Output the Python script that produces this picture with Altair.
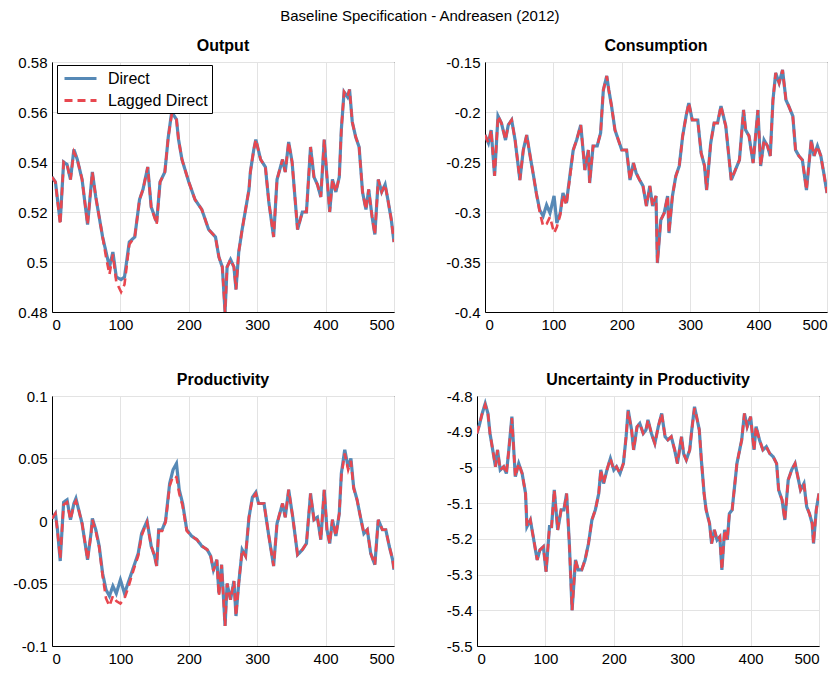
import altair as alt
import pandas as pd

# ---------------- data ----------------
out_t = [0, 5, 12, 17, 22, 27, 32, 37, 44, 52, 59, 64, 69, 74, 79, 84, 89, 94, 101, 106, 113, 121, 128, 133, 140, 145,
         153, 158, 165, 170, 175, 182, 185, 190, 200, 209, 219, 229, 239, 244, 249, 253, 256, 261, 266, 269, 273, 278,
         283, 288, 290, 295, 298, 305, 312, 317, 324, 329, 337, 341, 346, 351, 359, 366, 372, 378, 383, 388, 393, 398,
         402, 406, 410, 415, 420, 423, 427, 432, 435, 439, 444, 449, 454, 459, 463, 468, 472, 477, 482, 487, 491, 496, 500]
out_direct = [0.534, 0.532, 0.516, 0.540, 0.539, 0.533, 0.545, 0.541, 0.533, 0.515, 0.536, 0.526, 0.518, 0.510, 0.504,
              0.498, 0.504, 0.494, 0.493, 0.494, 0.508, 0.510, 0.525, 0.529, 0.538, 0.522, 0.516, 0.532, 0.536, 0.550,
              0.560, 0.557, 0.549, 0.541, 0.532, 0.525, 0.521, 0.513, 0.510, 0.502, 0.498, 0.480, 0.498, 0.501, 0.498,
              0.489, 0.504, 0.513, 0.521, 0.529, 0.536, 0.545, 0.549, 0.541, 0.538, 0.524, 0.510, 0.533, 0.541, 0.536,
              0.548, 0.540, 0.513, 0.520, 0.520, 0.546, 0.534, 0.531, 0.526, 0.549, 0.534, 0.520, 0.533, 0.528, 0.534,
              0.553, 0.568, 0.566, 0.569, 0.556, 0.550, 0.546, 0.528, 0.521, 0.529, 0.518, 0.511, 0.533, 0.528, 0.531,
              0.525, 0.517, 0.508]
out_lagged = [0.534, 0.532, 0.515, 0.540, 0.539, 0.533, 0.544, 0.541, 0.533, 0.515, 0.536, 0.526, 0.518, 0.510, 0.502,
              0.495, 0.503, 0.492, 0.488, 0.491, 0.507, 0.510, 0.525, 0.529, 0.538, 0.522, 0.515, 0.532, 0.536, 0.550,
              0.559, 0.557, 0.549, 0.541, 0.532, 0.525, 0.521, 0.513, 0.510, 0.502, 0.498, 0.480, 0.498, 0.501, 0.498,
              0.489, 0.504, 0.513, 0.521, 0.529, 0.536, 0.545, 0.549, 0.541, 0.538, 0.524, 0.510, 0.533, 0.541, 0.536,
              0.548, 0.540, 0.513, 0.520, 0.520, 0.546, 0.534, 0.531, 0.526, 0.549, 0.534, 0.520, 0.533, 0.528, 0.534,
              0.553, 0.568, 0.566, 0.569, 0.556, 0.550, 0.546, 0.528, 0.521, 0.529, 0.518, 0.511, 0.533, 0.528, 0.531,
              0.525, 0.517, 0.508]

con_t = [0, 5, 9, 14, 19, 24, 30, 34, 39, 44, 51, 56, 61, 66, 71, 75, 80, 85, 90, 95, 101, 105, 110, 114, 119, 124,
         129, 134, 140, 146, 151, 153, 158, 164, 169, 173, 178, 181, 185, 190, 195, 200, 207, 212, 217, 221, 226, 231,
         236, 241, 245, 250, 252, 257, 262, 267, 269, 274, 279, 284, 289, 294, 298, 303, 311, 316, 321, 324, 330, 335,
         340, 345, 352, 360, 366, 372, 378, 381, 386, 392, 399, 403, 408, 413, 417, 421, 425, 430, 435, 440, 444, 450,
         454, 459, 464, 470, 477, 481, 486, 491, 496, 500]
con_direct = [-0.223, -0.231, -0.218, -0.264, -0.204, -0.211, -0.228, -0.213, -0.208, -0.228, -0.268, -0.238, -0.223,
              -0.244, -0.264, -0.281, -0.298, -0.304, -0.293, -0.301, -0.284, -0.311, -0.301, -0.281, -0.291, -0.264,
              -0.238, -0.228, -0.213, -0.258, -0.238, -0.271, -0.234, -0.234, -0.221, -0.178, -0.164, -0.178, -0.194,
              -0.218, -0.228, -0.238, -0.238, -0.268, -0.251, -0.261, -0.268, -0.274, -0.294, -0.274, -0.294, -0.284,
              -0.351, -0.308, -0.301, -0.284, -0.321, -0.284, -0.264, -0.254, -0.224, -0.204, -0.191, -0.208, -0.208,
              -0.241, -0.254, -0.278, -0.231, -0.211, -0.211, -0.194, -0.214, -0.268, -0.258, -0.248, -0.198, -0.218,
              -0.224, -0.251, -0.198, -0.254, -0.228, -0.234, -0.244, -0.188, -0.161, -0.171, -0.158, -0.188, -0.194,
              -0.204, -0.238, -0.244, -0.248, -0.278, -0.228, -0.244, -0.234, -0.244, -0.264, -0.281]
con_lagged = [-0.223, -0.231, -0.218, -0.264, -0.204, -0.211, -0.228, -0.213, -0.208, -0.228, -0.268, -0.238, -0.223,
              -0.244, -0.264, -0.281, -0.300, -0.314, -0.312, -0.305, -0.321, -0.315, -0.303, -0.283, -0.293, -0.266,
              -0.238, -0.228, -0.213, -0.258, -0.238, -0.271, -0.234, -0.234, -0.221, -0.178, -0.164, -0.178, -0.194,
              -0.218, -0.228, -0.238, -0.238, -0.268, -0.251, -0.261, -0.268, -0.274, -0.294, -0.274, -0.294, -0.284,
              -0.351, -0.308, -0.301, -0.284, -0.321, -0.284, -0.264, -0.254, -0.224, -0.204, -0.191, -0.208, -0.208,
              -0.241, -0.254, -0.278, -0.231, -0.211, -0.211, -0.194, -0.214, -0.268, -0.258, -0.248, -0.198, -0.218,
              -0.224, -0.251, -0.198, -0.254, -0.228, -0.234, -0.244, -0.188, -0.161, -0.171, -0.158, -0.188, -0.194,
              -0.204, -0.238, -0.244, -0.248, -0.278, -0.228, -0.244, -0.234, -0.244, -0.264, -0.281]

pro_t = [0, 5, 8, 12, 17, 22, 27, 32, 35, 39, 44, 52, 57, 59, 64, 69, 74, 79, 84, 89, 94, 100, 106, 111, 116, 121, 126,
         131, 135, 139, 145, 150, 153, 156, 161, 166, 172, 177, 182, 186, 191, 197, 204, 212, 219, 227, 232, 236, 241,
         244, 248, 253, 256, 261, 266, 269, 273, 278, 283, 288, 293, 298, 302, 310, 317, 324, 329, 337, 341, 346, 352,
         359, 366, 372, 378, 383, 388, 393, 398, 402, 406, 410, 415, 420, 423, 428, 433, 437, 441, 446, 451, 456, 461,
         466, 472, 477, 483, 488, 493, 498, 500]
pro_direct = [0.002, 0.006, -0.007, -0.032, 0.015, 0.017, 0.001, 0.014, 0.018, 0.009, -0.002, -0.031, -0.010, 0.002,
              -0.007, -0.020, -0.042, -0.055, -0.060, -0.052, -0.058, -0.047, -0.058, -0.050, -0.042, -0.034, -0.026,
              -0.010, -0.005, 0.000, -0.020, -0.028, -0.036, -0.007, -0.007, 0.000, 0.030, 0.041, 0.046, 0.025, 0.014,
              -0.007, -0.012, -0.015, -0.020, -0.023, -0.028, -0.039, -0.031, -0.058, -0.035, -0.084, -0.050, -0.063,
              -0.048, -0.076, -0.050, -0.023, -0.028, 0.003, 0.019, 0.023, 0.014, 0.014, -0.012, -0.036, -0.002, 0.014,
              0.003, 0.025, 0.003, -0.027, -0.023, -0.018, 0.022, 0.001, 0.003, -0.015, 0.025, -0.007, -0.018, 0.001,
              -0.012, 0.006, 0.038, 0.057, 0.043, 0.050, 0.027, 0.017, 0.003, -0.010, -0.007, -0.026, -0.035, 0.001,
              -0.007, -0.007, -0.020, -0.031, -0.039]
pro_lagged = [0.002, 0.006, -0.008, -0.030, 0.013, 0.015, 0.001, 0.013, 0.016, 0.009, -0.002, -0.031, -0.011, 0.001,
              -0.008, -0.021, -0.044, -0.062, -0.068, -0.060, -0.064, -0.066, -0.062, -0.054, -0.045, -0.036, -0.028,
              -0.012, -0.006, -0.001, -0.020, -0.028, -0.036, -0.008, -0.008, -0.001, 0.028, 0.036, 0.035, 0.022,
              0.012, -0.008, -0.012, -0.015, -0.020, -0.023, -0.028, -0.040, -0.031, -0.060, -0.035, -0.084, -0.050,
              -0.063, -0.048, -0.076, -0.050, -0.023, -0.028, 0.003, 0.018, 0.022, 0.014, 0.014, -0.012, -0.036,
              -0.002, 0.014, 0.003, 0.025, 0.003, -0.027, -0.023, -0.018, 0.022, 0.001, 0.003, -0.015, 0.025, -0.007,
              -0.018, 0.001, -0.012, 0.006, 0.036, 0.054, 0.041, 0.048, 0.026, 0.017, 0.003, -0.010, -0.007, -0.026,
              -0.035, 0.001, -0.007, -0.007, -0.020, -0.031, -0.039]

unc_t = [0, 4, 7, 12, 16, 19, 23, 27, 30, 34, 39, 43, 46, 51, 56, 61, 66, 71, 73, 78, 83, 88, 92, 97, 101, 106, 109,
         113, 118, 123, 127, 131, 135, 139, 144, 148, 153, 158, 163, 168, 173, 178, 181, 185, 190, 195, 200, 204, 209,
         214, 218, 221, 226, 229, 234, 238, 243, 247, 250, 255, 260, 265, 270, 275, 279, 284, 289, 293, 299, 302, 306,
         311, 314, 318, 322, 325, 328, 332, 335, 340, 343, 347, 351, 355, 358, 362, 366, 369, 373, 377, 380, 384, 387,
         391, 395, 400, 405, 408, 413, 418, 423, 428, 433, 438, 441, 446, 450, 455, 460, 465, 470, 473, 478, 482, 486,
         490, 492, 496, 500]
unc_direct = [-4.905, -4.877, -4.853, -4.821, -4.849, -4.905, -4.951, -4.998, -4.951, -5.007, -4.998, -5.017, -4.961,
              -4.858, -5.026, -4.989, -5.017, -5.073, -5.166, -5.147, -5.203, -5.259, -5.231, -5.222, -5.292, -5.166,
              -5.166, -5.063, -5.175, -5.119, -5.119, -5.073, -5.213, -5.400, -5.259, -5.287, -5.287, -5.259, -5.213,
              -5.147, -5.119, -5.073, -5.007, -5.045, -5.007, -4.975, -5.007, -4.998, -5.017, -4.989, -4.914, -4.839,
              -4.895, -4.951, -4.886, -4.877, -4.905, -4.895, -4.867, -4.905, -4.933, -4.886, -4.849, -4.914, -4.923,
              -4.914, -4.951, -4.989, -4.914, -4.961, -4.979, -4.951, -4.895, -4.830, -4.867, -4.895, -4.979, -5.073,
              -5.119, -5.157, -5.213, -5.175, -5.203, -5.194, -5.287, -5.175, -5.203, -5.129, -5.119, -5.045, -4.989,
              -4.951, -4.923, -4.849, -4.886, -4.858, -4.951, -4.886, -4.923, -4.951, -4.942, -4.961, -4.970, -4.989,
              -5.063, -5.091, -5.147, -5.035, -5.007, -4.989, -5.035, -5.063, -5.045, -5.110, -5.129, -5.157, -5.213,
              -5.119, -5.073]
unc_lagged = [-4.905, -4.877, -4.853, -4.825, -4.849, -4.905, -4.951, -4.998, -4.951, -5.007, -4.998, -5.017, -4.961,
              -4.862, -5.026, -4.989, -5.017, -5.073, -5.166, -5.147, -5.203, -5.259, -5.231, -5.222, -5.292, -5.166,
              -5.166, -5.063, -5.175, -5.119, -5.119, -5.073, -5.213, -5.400, -5.259, -5.287, -5.287, -5.259, -5.213,
              -5.147, -5.119, -5.073, -5.007, -5.045, -5.007, -4.975, -5.007, -4.998, -5.017, -4.989, -4.914, -4.843,
              -4.895, -4.951, -4.886, -4.877, -4.905, -4.895, -4.867, -4.905, -4.933, -4.886, -4.849, -4.914, -4.923,
              -4.914, -4.951, -4.989, -4.914, -4.961, -4.979, -4.951, -4.895, -4.834, -4.867, -4.895, -4.979, -5.073,
              -5.119, -5.157, -5.213, -5.175, -5.203, -5.194, -5.287, -5.175, -5.203, -5.129, -5.119, -5.045, -4.989,
              -4.951, -4.923, -4.849, -4.886, -4.858, -4.951, -4.886, -4.923, -4.951, -4.942, -4.961, -4.970, -4.989,
              -5.063, -5.091, -5.147, -5.035, -5.007, -4.989, -5.035, -5.063, -5.045, -5.110, -5.129, -5.157, -5.213,
              -5.119, -5.073]

series_names = ["Direct", "Lagged Direct"]
x_ticks = [0, 100, 200, 300, 400, 500]
out_ticks = [0.48, 0.5, 0.52, 0.54, 0.56, 0.58]
con_ticks = [-0.4, -0.35, -0.3, -0.25, -0.2, -0.15]
pro_ticks = [-0.1, -0.05, 0, 0.05, 0.1]
unc_ticks = [-5.5, -5.4, -5.3, -5.2, -5.1, -5, -4.9, -4.8]

BLUE = "#5689b6"
RED = "#e8474f"
FONT = "Liberation Sans"
W, H = 342, 250


def make_df(t, d, l):
    rows = []
    for ti, di in zip(t, d):
        rows.append({"t": ti, "value": di, "series": series_names[0]})
    for ti, li in zip(t, l):
        rows.append({"t": ti, "value": li, "series": series_names[1]})
    return pd.DataFrame(rows)


def panel(title, df, ticks, show_legend=False):
    if show_legend:
        leg = alt.Legend(
            title=None, orient="none", legendX=5, legendY=3,
            symbolType="M-2,0L2,0", symbolSize=256, symbolStrokeWidth=2.8, symbolOffset=10,
            labelFontSize=16, labelFont=FONT, labelColor="black", labelOffset=18,
            strokeColor="black", fillColor="white", padding=4, rowPadding=4,
        )
    else:
        leg = None
    color = alt.Color("series:N", scale=alt.Scale(domain=series_names, range=[BLUE, RED]), legend=leg)
    dash = alt.StrokeDash("series:N", scale=alt.Scale(domain=series_names, range=[[1, 0], [8, 5]]), legend=leg)
    x = alt.X("t:Q", scale=alt.Scale(domain=[0, 500], nice=False),
              axis=alt.Axis(values=x_ticks, title=None, labelExpr="'' + datum.value"))
    y = alt.Y("value:Q", scale=alt.Scale(domain=[ticks[0], ticks[-1]], nice=False, zero=False),
              axis=alt.Axis(values=ticks, title=None, labelExpr="'' + datum.value"))
    base = alt.Chart(df)
    l1 = base.transform_filter(alt.datum.series == series_names[0]).mark_line(
        strokeWidth=3.2, clip=True).encode(x=x, y=y, color=color, strokeDash=dash)
    l2 = base.transform_filter(alt.datum.series == series_names[1]).mark_line(
        strokeWidth=2.6, clip=True).encode(x=x, y=y, color=color, strokeDash=dash)
    return alt.layer(l1, l2).properties(
        width=W, height=H,
        title=alt.TitleParams(title, fontSize=16, fontWeight="bold", font=FONT, color="black", offset=1),
    )


p1 = panel("Output", make_df(out_t, out_direct, out_lagged), out_ticks, show_legend=True)
p2 = panel("Consumption", make_df(con_t, con_direct, con_lagged), con_ticks)
p3 = panel("Productivity", make_df(pro_t, pro_direct, pro_lagged), pro_ticks)
p4 = panel("Uncertainty in Productivity", make_df(unc_t, unc_direct, unc_lagged), unc_ticks)

chart = alt.vconcat(
    alt.hconcat(p1, p2, spacing=50),
    alt.hconcat(p3, p4, spacing=50),
    spacing=38,
).properties(
    title=alt.TitleParams("Baseline Specification - Andreasen (2012)", fontSize=15, fontWeight="normal",
                          font=FONT, color="black", anchor="middle", offset=14),
    padding={"left": 4, "top": 0, "right": 0, "bottom": 0},
).configure_view(
    stroke="black", strokeWidth=1
).configure_axis(
    labelFont=FONT, labelFontSize=15, labelColor="black", grid=True, gridColor="#e3e3e3",
    domainColor="black", ticks=False, labelPadding=5,
)

chart.save("out.html", embed_options={"renderer": "svg", "actions": False})
